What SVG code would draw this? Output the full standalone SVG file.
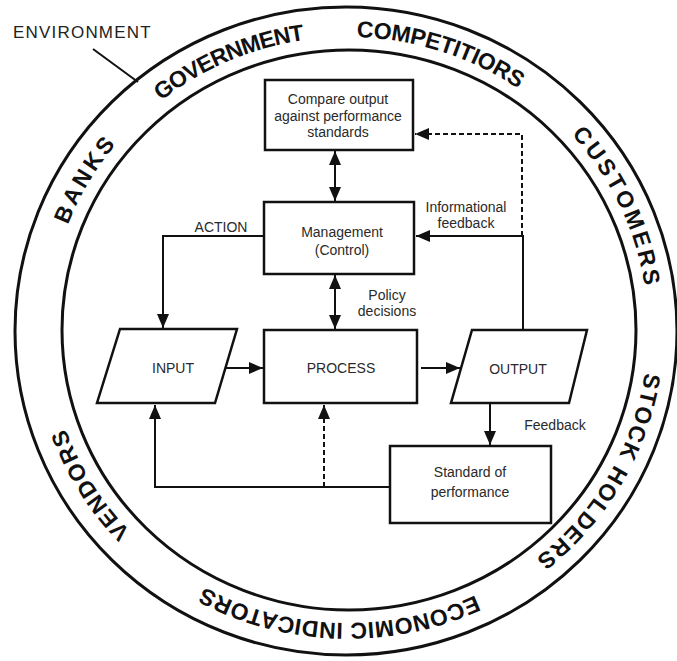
<svg xmlns="http://www.w3.org/2000/svg" xmlns:xlink="http://www.w3.org/1999/xlink" width="677" height="661" viewBox="0 0 677 661">
  <style>
    .ring { fill: none; stroke: #111; stroke-width: 3; }
    .ringtext { font-family: "Liberation Sans", Arial, sans-serif; font-weight: bold; font-size: 23px; fill: #111; }
    .box { fill: #fff; stroke: #111; stroke-width: 2.5; }
    .line { fill: none; stroke: #111; stroke-width: 2; }
    .dash { fill: none; stroke: #111; stroke-width: 2; stroke-dasharray: 5 3; }
    .lbl { font-family: "Liberation Sans", Arial, sans-serif; font-size: 14px; fill: #2a2a2a; text-anchor: middle; }
    .env { font-family: "Liberation Sans", Arial, sans-serif; font-size: 17px; letter-spacing: 1.2px; fill: #222; }
  </style>
  <defs>
    <marker id="arrow" markerUnits="userSpaceOnUse" markerWidth="14" markerHeight="12" refX="14" refY="6" orient="auto-start-reverse">
      <path d="M0,0 L14,6 L0,12 z" fill="#111"/>
    </marker>
    <!-- clockwise path in the middle of the ring, starting at its left point -->
    <path id="ringPath" d="M 48,330 A 300,293 0 1 1 648,330 A 300,293 0 1 1 48,330"/>
  </defs>

  <rect width="677" height="661" fill="#fff"/>

  <!-- environment ring -->
  <g id="environment">
    <ellipse class="ring" cx="346" cy="331" rx="331" ry="324"/>
    <ellipse class="ring" cx="349" cy="330" rx="287" ry="280"/>
    <text class="ringtext" text-anchor="middle" letter-spacing="3"><textPath xlink:href="#ringPath" startOffset="156">BANKS</textPath></text>
    <text class="ringtext" text-anchor="middle" letter-spacing="-0.8"><textPath xlink:href="#ringPath" startOffset="343">GOVERNMENT</textPath></text>
    <text class="ringtext" text-anchor="middle" letter-spacing="-0.3"><textPath xlink:href="#ringPath" startOffset="560">COMPETITIORS</textPath></text>
    <text class="ringtext" text-anchor="middle" letter-spacing="3"><textPath xlink:href="#ringPath" startOffset="803">CUSTOMERS</textPath></text>
    <text class="ringtext" text-anchor="middle" letter-spacing="1.8"><textPath xlink:href="#ringPath" startOffset="1085">STOCK HOLDERS</textPath></text>
    <text class="ringtext" text-anchor="middle" letter-spacing="0.4"><textPath xlink:href="#ringPath" startOffset="1406">ECONOMIC INDICATORS</textPath></text>
    <text class="ringtext" text-anchor="middle" letter-spacing="1.5"><textPath xlink:href="#ringPath" startOffset="1701">VENDORS</textPath></text>
    <text class="env" x="13" y="38">ENVIRONMENT</text>
    <line class="line" x1="93" y1="49" x2="138" y2="82" stroke-width="2.5"/>
  </g>

  <!-- connectors -->
  <g id="connectors">
    <line class="line" x1="335" y1="151" x2="335" y2="201" marker-start="url(#arrow)" marker-end="url(#arrow)"/>
    <line class="line" x1="335" y1="275" x2="335" y2="329" marker-start="url(#arrow)" marker-end="url(#arrow)"/>
    <polyline class="line" points="264,236 163,236 163,328" marker-end="url(#arrow)"/>
    <line class="line" x1="226" y1="368" x2="263" y2="368" marker-end="url(#arrow)"/>
    <line class="line" x1="421" y1="368" x2="460" y2="368" marker-end="url(#arrow)"/>
    <polyline class="line" points="523,330 523,236 416,236" marker-end="url(#arrow)"/>
    <polyline class="dash" points="522,236 522,134 415,134" marker-end="url(#arrow)"/>
    <line class="line" x1="490" y1="404" x2="490" y2="445" marker-end="url(#arrow)"/>
    <polyline class="line" points="390,487 155,487 155,405" marker-end="url(#arrow)"/>
    <line class="dash" x1="324" y1="487" x2="324" y2="405" marker-end="url(#arrow)"/>
  </g>

  <!-- nodes -->
  <g id="compare">
    <rect class="box" x="265" y="80" width="148" height="70"/>
    <text class="lbl" x="338" y="104">Compare output</text>
    <text class="lbl" x="338" y="121">against performance</text>
    <text class="lbl" x="338" y="137">standards</text>
  </g>
  <g id="management">
    <rect class="box" x="264" y="202" width="150" height="72"/>
    <text class="lbl" x="342" y="237">Management</text>
    <text class="lbl" x="342" y="255">(Control)</text>
  </g>
  <g id="input">
    <polygon class="box" points="120,329 237,329 215,403 97,403"/>
    <text class="lbl" x="173" y="373">INPUT</text>
  </g>
  <g id="process">
    <rect class="box" x="264" y="330" width="153" height="73"/>
    <text class="lbl" x="341" y="373">PROCESS</text>
  </g>
  <g id="output">
    <polygon class="box" points="472,330 587,330 569,403 451,403"/>
    <text class="lbl" x="518" y="374">OUTPUT</text>
  </g>
  <g id="standard">
    <rect class="box" x="390" y="446" width="161" height="77"/>
    <text class="lbl" x="470" y="477">Standard of</text>
    <text class="lbl" x="470" y="497">performance</text>
  </g>

  <!-- connector labels -->
  <g id="labels">
    <text class="lbl" x="221" y="232">ACTION</text>
    <text class="lbl" x="387" y="300">Policy</text>
    <text class="lbl" x="387" y="316">decisions</text>
    <text class="lbl" x="466" y="212">Informational</text>
    <text class="lbl" x="466" y="228">feedback</text>
    <text class="lbl" x="555" y="430">Feedback</text>
  </g>
</svg>
